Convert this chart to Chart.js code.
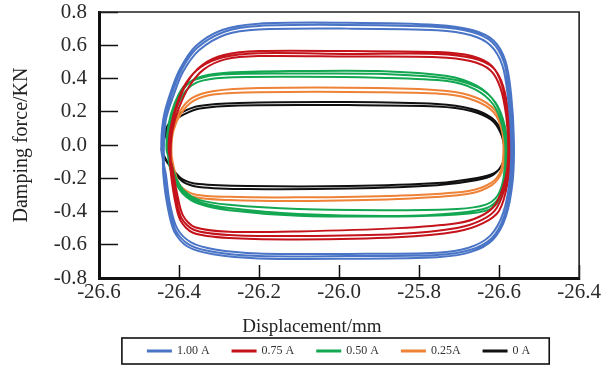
<!DOCTYPE html>
<html><head><meta charset="utf-8">
<script src="https://cdn.jsdelivr.net/npm/chart.js@4.4.0/dist/chart.umd.min.js"></script>
<style>html,body{margin:0;padding:0;background:#fff}</style>
</head><body>
<canvas id="c" width="616" height="369"></canvas>
<script>
// ---- data ----
const seriesLabels = ["1.00 A", "0.75 A", "0.50 A", "0.25A", "0 A"];
const seriesColors = ["#4a74c6", "#c4131b", "#13a752", "#ee8236", "#111111"];
const xTickLabels = ["-26.6", "-26.4", "-26.2", "-26.0", "-25.8", "-26.6", "-26.4"];
const yTickLabels = ["-0.8", "-0.6", "-0.4", "-0.2", "0.0", "0.2", "0.4", "0.6", "0.8"];
const xTitle = "Displacement/mm";
const yTitle = "Damping force/KN";

// each loop: [displacement, force] pairs, clockwise cycle
const blue1 = [[-26.441,-0.030],[-26.436,0.150],[-26.419,0.301],[-26.394,0.451],[-26.355,0.583],[-26.288,0.680],[-26.201,0.716],[-25.978,0.722],[-25.755,0.710],[-25.668,0.680],[-25.618,0.620],[-25.588,0.499],[-25.574,0.301],[-25.566,0.030],[-25.569,-0.211],[-25.586,-0.421],[-25.618,-0.559],[-25.673,-0.632],[-25.755,-0.662],[-25.978,-0.668],[-26.201,-0.668],[-26.312,-0.644],[-26.374,-0.601],[-26.409,-0.511],[-26.426,-0.361],[-26.436,-0.180]];
const blue2 = [[-26.438,-0.030],[-26.433,0.150],[-26.415,0.290],[-26.390,0.440],[-26.350,0.570],[-26.283,0.665],[-26.201,0.695],[-25.978,0.700],[-25.755,0.690],[-25.670,0.660],[-25.622,0.600],[-25.592,0.480],[-25.578,0.290],[-25.570,0.030],[-25.573,-0.200],[-25.590,-0.410],[-25.622,-0.545],[-25.676,-0.618],[-25.755,-0.648],[-25.978,-0.655],[-26.201,-0.652],[-26.310,-0.628],[-26.370,-0.585],[-26.405,-0.500],[-26.423,-0.350],[-26.433,-0.175]];
const blue3 = [[-26.444,-0.030],[-26.439,0.160],[-26.422,0.310],[-26.397,0.460],[-26.358,0.595],[-26.292,0.692],[-26.201,0.730],[-25.978,0.735],[-25.755,0.722],[-25.665,0.690],[-25.614,0.628],[-25.584,0.505],[-25.570,0.305],[-25.563,0.030],[-25.566,-0.215],[-25.583,-0.430],[-25.615,-0.568],[-25.670,-0.643],[-25.755,-0.675],[-25.978,-0.684],[-26.201,-0.682],[-26.315,-0.657],[-26.378,-0.612],[-26.412,-0.520],[-26.429,-0.365],[-26.439,-0.185],[-26.441,-0.030]];

const red1 = [[-26.424,-0.030],[-26.419,0.102],[-26.404,0.241],[-26.379,0.379],[-26.342,0.481],[-26.288,0.541],[-26.201,0.565],[-25.978,0.565],[-25.755,0.559],[-25.668,0.535],[-25.618,0.475],[-25.593,0.361],[-25.579,0.180],[-25.574,-0.030],[-25.581,-0.211],[-25.606,-0.379],[-25.643,-0.451],[-25.705,-0.499],[-25.854,-0.535],[-26.102,-0.547],[-26.275,-0.541],[-26.362,-0.511],[-26.394,-0.439],[-26.409,-0.301],[-26.419,-0.150]];
const red2 = [[-26.421,-0.030],[-26.416,0.095],[-26.400,0.225],[-26.374,0.355],[-26.338,0.455],[-26.285,0.515],[-26.201,0.535],[-25.978,0.532],[-25.755,0.528],[-25.672,0.505],[-25.622,0.450],[-25.597,0.345],[-25.582,0.170],[-25.577,-0.030],[-25.584,-0.200],[-25.610,-0.360],[-25.648,-0.430],[-25.705,-0.470],[-25.854,-0.500],[-26.102,-0.520],[-26.275,-0.522],[-26.360,-0.495],[-26.390,-0.425],[-26.405,-0.290],[-26.416,-0.145]];
const red3 = [[-26.426,-0.030],[-26.421,0.105],[-26.406,0.245],[-26.382,0.375],[-26.345,0.470],[-26.290,0.528],[-26.201,0.552],[-25.978,0.548],[-25.755,0.548],[-25.665,0.522],[-25.615,0.465],[-25.590,0.355],[-25.576,0.175],[-25.572,-0.030],[-25.578,-0.220],[-25.600,-0.395],[-25.640,-0.470],[-25.705,-0.520],[-25.854,-0.555],[-26.102,-0.568],[-26.275,-0.560],[-26.365,-0.528],[-26.397,-0.452],[-26.412,-0.310],[-26.421,-0.155],[-26.424,-0.030]];

const green1 = [[-26.429,-0.030],[-26.424,0.120],[-26.409,0.241],[-26.387,0.343],[-26.355,0.403],[-26.288,0.433],[-26.102,0.445],[-25.903,0.445],[-25.730,0.415],[-25.655,0.355],[-25.611,0.259],[-25.588,0.120],[-25.581,-0.030],[-25.586,-0.211],[-25.601,-0.319],[-25.631,-0.379],[-25.705,-0.409],[-25.854,-0.427],[-26.102,-0.415],[-26.275,-0.379],[-26.350,-0.343],[-26.387,-0.289],[-26.409,-0.211],[-26.422,-0.120]];
const green2 = [[-26.426,-0.030],[-26.421,0.115],[-26.405,0.230],[-26.383,0.325],[-26.352,0.380],[-26.288,0.405],[-26.102,0.410],[-25.903,0.405],[-25.730,0.385],[-25.660,0.335],[-25.615,0.245],[-25.592,0.115],[-25.584,-0.030],[-25.589,-0.200],[-25.604,-0.305],[-25.635,-0.360],[-25.705,-0.385],[-25.854,-0.392],[-26.102,-0.385],[-26.275,-0.360],[-26.350,-0.330],[-26.385,-0.280],[-26.406,-0.205],[-26.419,-0.115]];
const green3 = [[-26.431,-0.030],[-26.426,0.125],[-26.411,0.250],[-26.389,0.350],[-26.357,0.395],[-26.290,0.425],[-26.102,0.430],[-25.903,0.428],[-25.730,0.400],[-25.652,0.345],[-25.609,0.255],[-25.586,0.118],[-25.579,-0.030],[-25.584,-0.215],[-25.598,-0.325],[-25.628,-0.392],[-25.705,-0.418],[-25.854,-0.430],[-26.102,-0.425],[-26.275,-0.392],[-26.352,-0.352],[-26.389,-0.296],[-26.411,-0.215],[-26.424,-0.125],[-26.429,-0.030]];

const orange1 = [[-26.421,-0.030],[-26.417,0.090],[-26.399,0.198],[-26.367,0.283],[-26.312,0.325],[-26.201,0.343],[-25.903,0.343],[-25.730,0.325],[-25.655,0.283],[-25.611,0.211],[-25.591,0.102],[-25.586,-0.030],[-25.593,-0.162],[-25.618,-0.241],[-25.680,-0.295],[-25.854,-0.325],[-26.102,-0.337],[-26.275,-0.331],[-26.362,-0.313],[-26.399,-0.259],[-26.414,-0.162]];
const orange2 = [[-26.419,-0.030],[-26.414,0.085],[-26.396,0.185],[-26.364,0.265],[-26.310,0.305],[-26.201,0.318],[-25.903,0.318],[-25.730,0.305],[-25.658,0.265],[-25.614,0.198],[-25.594,0.095],[-25.589,-0.030],[-25.596,-0.155],[-25.620,-0.228],[-25.680,-0.278],[-25.854,-0.305],[-26.102,-0.315],[-26.275,-0.312],[-26.360,-0.298],[-26.396,-0.248],[-26.411,-0.155],[-26.421,-0.030]];

const black1 = [[-26.444,-0.030],[-26.436,0.078],[-26.419,0.150],[-26.392,0.198],[-26.350,0.235],[-26.250,0.253],[-25.978,0.259],[-25.755,0.247],[-25.668,0.217],[-25.618,0.162],[-25.593,0.078],[-25.584,-0.018],[-25.588,-0.102],[-25.611,-0.168],[-25.655,-0.198],[-25.755,-0.229],[-25.978,-0.247],[-26.226,-0.247],[-26.350,-0.235],[-26.392,-0.205],[-26.419,-0.138],[-26.436,-0.078]];
const black2 = [[-26.441,-0.030],[-26.433,0.070],[-26.416,0.138],[-26.389,0.183],[-26.348,0.220],[-26.250,0.238],[-25.978,0.240],[-25.755,0.232],[-25.670,0.205],[-25.620,0.152],[-25.596,0.072],[-25.587,-0.025],[-25.591,-0.108],[-25.614,-0.178],[-25.658,-0.212],[-25.755,-0.242],[-25.978,-0.262],[-26.226,-0.265],[-26.350,-0.252],[-26.390,-0.222],[-26.416,-0.150],[-26.433,-0.085],[-26.444,-0.030]];

const loopsBySeries = [
  [blue1, blue2, blue3],
  [red1, red2, red3],
  [green1, green2, green3],
  [orange1, orange2],
  [black1, black2]
];

const SERIF = "'Liberation Serif', 'Times New Roman', serif";

const datasets = seriesLabels.map((lab, i) => ({
  label: lab,
  data: loopsBySeries[i].flat().map(([x, y]) => ({x, y})),
  borderColor: seriesColors[i],
  backgroundColor: seriesColors[i],
  borderWidth: 2,
  pointRadius: 0,
  tension: 0.3,
  fill: false
}));

const framePlugin = {
  id: 'frame',
  afterDraw(chart) {
    const ctx = chart.ctx, a = chart.chartArea;
    ctx.save();
    ctx.strokeStyle = '#222';
    ctx.lineWidth = 1.6;
    ctx.beginPath();
    ctx.moveTo(a.left, a.top);
    ctx.lineTo(a.right, a.top);
    ctx.lineTo(a.right, a.bottom);
    ctx.stroke();
    // x axis title (centred under the whole figure, as in the reference)
    ctx.fillStyle = '#222';
    ctx.font = "19px " + SERIF;
    ctx.textAlign = 'center';
    ctx.textBaseline = 'middle';
    ctx.fillText(xTitle, chart.width / 2 + 4, a.bottom + 49);
    // legend frame
    const lg = chart.legend;
    if (lg && lg.legendHitBoxes && lg.legendHitBoxes.length) {
      const hb = lg.legendHitBoxes;
      const first = hb[0], last = hb[hb.length - 1];
      const cy = first.top + first.height / 2;
      const l = first.left - 26, r = last.left + last.width + 19;
      ctx.lineWidth = 1.6;
      ctx.strokeStyle = '#111';
      ctx.strokeRect(l, cy - 13, r - l, 26);
    }
    ctx.restore();
  }
};

new Chart(document.getElementById('c'), {
  type: 'line',
  data: { datasets },
  plugins: [framePlugin],
  options: {
    responsive: false,
    animation: false,
    devicePixelRatio: 1,
    layout: { padding: { left: 44, right: 33, top: 12, bottom: 2 } },
    scales: {
      x: {
        type: 'linear', min: -26.6, max: -25.4,
        ticks: {
          stepSize: 0.2, autoSkip: false, maxRotation: 0, padding: 15,
          color: '#2a2a2a', font: { family: SERIF, size: 21 },
          callback: (v, i) => xTickLabels[i]
        },
        grid: { drawOnChartArea: false, drawTicks: true, tickLength: -13, tickWidth: 1.5, tickColor: '#111' },
        border: { display: true, width: 3, color: '#111' },
        afterFit(s) {
          const c = s.chart;
          const lh = (c.legend && c.legend.height) ? c.legend.height : 45;
          s.height = c.height - 2 - lh - 278;
        }
      },
      y: {
        min: -0.8, max: 0.8,
        ticks: {
          stepSize: 0.2, padding: 31, color: '#2a2a2a', font: { family: SERIF, size: 21 },
          callback: (v, i) => yTickLabels[i]
        },
        grid: { drawOnChartArea: false, drawTicks: true, tickLength: -19, tickWidth: 1.5, tickColor: '#111' },
        border: { display: true, width: 3, color: '#111' },
        title: {
          display: true, text: yTitle, color: '#222',
          font: { family: SERIF, size: 20 }, padding: { top: -34, bottom: 0 }
        },
        afterFit(s) { s.width = 55; s.paddingTop = 0; s.paddingBottom = 0; }
      }
    },
    plugins: {
      legend: {
        position: 'bottom', fullSize: false,
        labels: {
          boxWidth: 23, boxHeight: 1, padding: 23, color: '#333',
          font: { family: SERIF, size: 12 }
        }
      },
      tooltip: { enabled: false }
    }
  }
});
</script>
</body></html>
